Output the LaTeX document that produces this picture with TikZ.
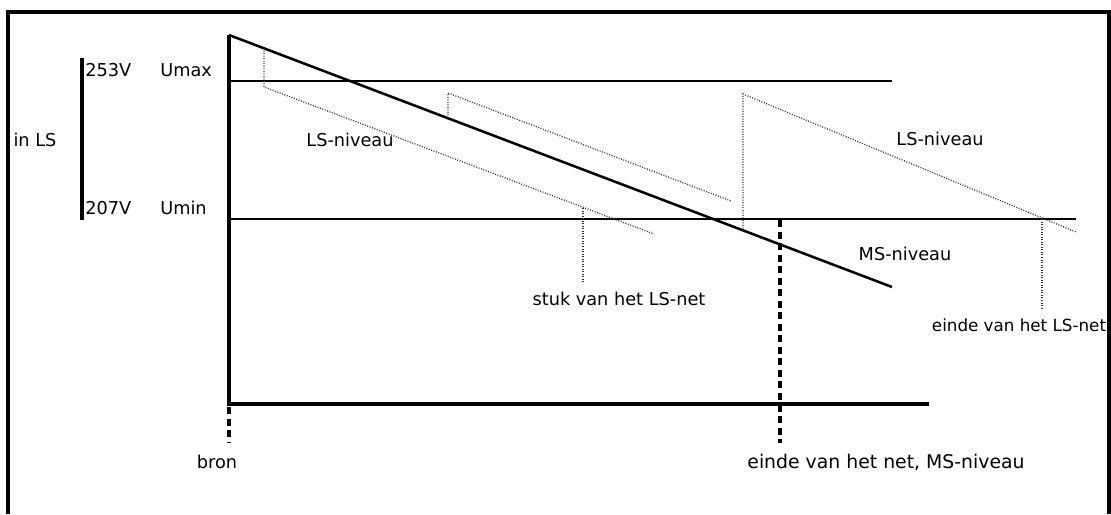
\documentclass[tikz,border=0pt]{standalone}
\usepackage{fontspec}
\setmainfont{DejaVu Sans}
\begin{document}
\begin{tikzpicture}[x=0.025cm, y=-0.025cm, line cap=butt, line join=miter, font=\fontsize{12.6}{15}\selectfont]
	\tikzset{txt/.style={inner sep=0pt, anchor=center},
		axis line/.style={line width=2.6pt},
		level line/.style={line width=1.8pt},
		ls level/.style={line width=0.9pt, black!80, dash pattern=on 0.7pt off 1.1pt},
		net end/.style={line width=2.6pt, dash pattern=on 5pt off 3.2pt}}
	\useasboundingbox (0,0) rectangle (1111,514);
	% kader
	\draw[line width=2.4pt] (8,514) -- (8,12) -- (1109,12) -- (1109,514);
	% spanningsband LS
	\draw[axis line] (82,58) -- (82,220);
	\node[txt] (inls) at (35,140) {in LS};
	\node[txt, anchor=west] (vmax) at (85,70) {253V};
	\node[txt, anchor=west] (umax) at (160,70) {Umax};
	\node[txt, anchor=west] (vmin) at (85,208) {207V};
	\node[txt, anchor=west] (umin) at (160,208) {Umin};
	% assen
	\coordinate (bron) at (229,35);
	\coordinate (O) at (229,404);
	\draw[axis line] (bron) -- (O) -- (929,404);
	\draw[level line] (229,81) -- (892,81);
	\draw[level line] (229,219) -- (1076,219);
	% MS-niveau
	\coordinate (msend) at (892,287);
	\draw[level line] (bron) -- (msend);
	% LS-niveaus
	\draw[ls level] (264,48) -- (264,87) -- (654,234);
	\draw[ls level] (448,118) -- (448,93) -- (731,201);
	\draw[ls level] (743,231) -- (743,94) -- (1076,232);
	\draw[ls level] (583,208) -- (583,282);
	\draw[ls level] (1042,219) -- (1042,310);
	% einde net
	\draw[net end] (229,407) -- (229,443);
	\draw[net end] (780,220) -- (780,443);
	% teksten
	\node[txt] (lsa) at (350,140) {LS-niveau};
	\node[txt] (lsb) at (940,139) {LS-niveau};
	\node[txt] (ms) at (905,254) {MS-niveau};
	\node[txt] (stuk) at (619,299) {stuk van het LS-net};
	\node[txt, font=\fontsize{11.9}{14}\selectfont] (eindels) at (1019,325) {einde van het LS-net};
	\node[txt] (bronlbl) at (217,462) {bron};
	\node[txt, font=\fontsize{13.4}{16}\selectfont] (eindems) at (886,462) {einde van het net, MS-niveau};
\end{tikzpicture}
\end{document}
